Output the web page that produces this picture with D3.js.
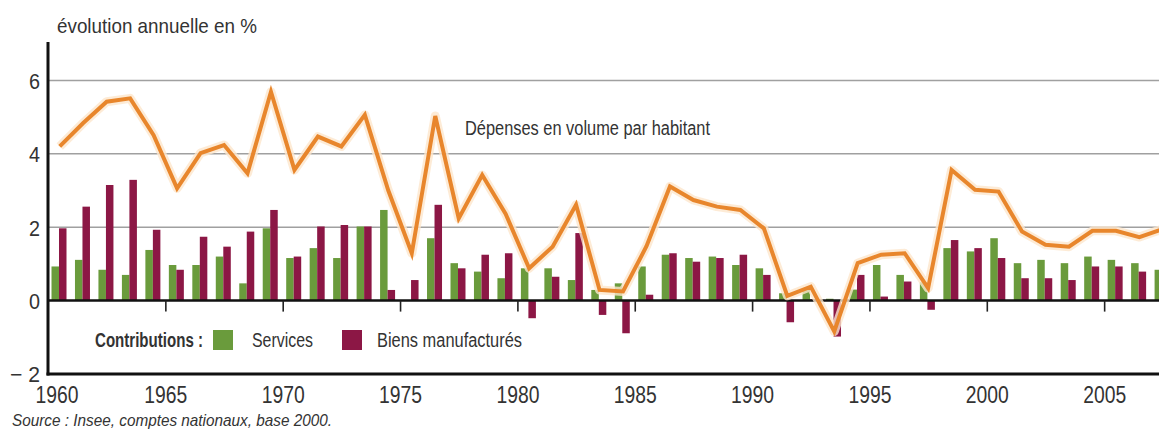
<!DOCTYPE html>
<html>
<head>
<meta charset="utf-8">
<script src="https://cdn.jsdelivr.net/npm/d3@7"></script>
<style>
  html, body { margin: 0; padding: 0; background: #fff; }
  svg { display: block; }
  text { font-family: "Liberation Sans", Arial, sans-serif; fill: #333; }
</style>
</head>
<body>
<svg id="chart" width="1159" height="430"></svg>
<script>
const years = d3.range(1960, 2008);
const services = [0.93,1.11,0.84,0.70,1.38,0.97,0.97,1.20,0.47,1.97,
                  1.16,1.43,1.16,2.02,2.47,0.00,1.70,1.02,0.79,0.61,
                  0.88,0.88,0.56,0.29,0.47,0.93,1.25,1.16,1.20,0.97,
                  0.88,0.20,0.29,0.05,0.30,0.97,0.70,0.50,1.43,1.34,
                  1.70,1.02,1.11,1.02,1.20,1.11,1.02,0.84];
const biens = [1.97,2.56,3.15,3.29,1.93,0.84,1.74,1.47,1.88,2.47,
               1.20,2.02,2.06,2.02,0.29,0.56,2.61,0.88,1.25,1.29,
               -0.48,0.65,1.84,-0.39,-0.89,0.16,1.29,1.06,1.16,1.25,
               0.70,-0.59,0.03,-0.98,0.70,0.11,0.52,-0.25,1.65,1.43,
               1.16,0.61,0.61,0.56,0.93,0.93,0.79,0.00];
const depenses = [4.20,4.84,5.42,5.51,4.51,3.06,4.02,4.24,3.47,5.69,
                  3.56,4.47,4.20,5.06,3.00,1.29,5.03,2.24,3.42,2.36,
                  0.88,1.47,2.61,0.29,0.25,1.48,3.11,2.74,2.56,2.47,
                  1.97,0.13,0.38,-0.84,1.02,1.25,1.29,0.34,3.56,3.02,
                  2.97,1.88,1.52,1.47,1.90,1.90,1.73,1.95];
const yTicks = [-2, 0, 2, 4, 6];
const gridTicks = [2, 4, 6];
const xTickYears = [1965, 1970, 1975, 1980, 1985, 1990, 1995, 2000, 2005];
const xLabelYears = [1960, 1965, 1970, 1975, 1980, 1985, 1990, 1995, 2000, 2005];
const seriesNames = ["Services", "Biens manufacturés"];
const seriesColors = ["#6a9b3c", "#8c1745"];
const lineColor = "#e8862c";

const svg = d3.select("#chart");
const W = 1159;
const left = 48, yearW = 23.47;
const xYear = d3.scaleLinear().domain([1960, 2008]).range([left, left + 48 * yearW]);
const x0 = d3.scaleBand().domain(years).range([left, left + 48 * yearW]).padding(0);
const x1 = d3.scaleBand().domain([0, 1]).range([3.5, 18.5]).padding(0);
const y = d3.scaleLinear().domain([-2, 7]).range([374, 43.7]);

function narrow(sel, len) {
  sel.attr("textLength", len).attr("lengthAdjust", "spacingAndGlyphs");
}

// gridlines
svg.append("g").selectAll("line").data(gridTicks).join("line")
  .attr("x1", left).attr("x2", W)
  .attr("y1", d => y(d)).attr("y2", d => y(d))
  .attr("stroke", "#a0a0a0").attr("stroke-width", 1.5);

// bars
const barData = [];
years.forEach((yr, i) => {
  barData.push({yr, s: 0, v: services[i]});
  barData.push({yr, s: 1, v: biens[i]});
});
svg.append("g").selectAll("rect").data(barData).join("rect")
  .attr("x", d => x0(d.yr) + x1(d.s))
  .attr("width", x1.bandwidth())
  .attr("y", d => y(Math.max(0, d.v)))
  .attr("height", d => Math.abs(y(d.v) - y(0)))
  .attr("fill", d => seriesColors[d.s]);

// zero line
svg.append("line").attr("x1", left).attr("x2", W)
  .attr("y1", y(0)).attr("y2", y(0))
  .attr("stroke", "#111").attr("stroke-width", 2.5);

// x ticks at zero line
const tickAxis = d3.axisBottom(xYear).tickValues(xTickYears).tickSize(11).tickFormat("");
const gt = svg.append("g").attr("transform", `translate(0,${y(0)})`).call(tickAxis);
gt.select(".domain").remove();
gt.selectAll(".tick line").attr("stroke", "#222").attr("stroke-width", 1.6);

// line with halo
const line = d3.line().x((d, i) => x0(years[i]) + x0.bandwidth() / 2).y(d => y(d));
svg.append("path").datum(depenses).attr("d", line)
  .attr("fill", "none").attr("stroke", "#fde6cc").attr("stroke-width", 9)
  .attr("stroke-linejoin", "round").attr("opacity", 0.8);
svg.append("path").datum(depenses).attr("d", line)
  .attr("fill", "none").attr("stroke", lineColor).attr("stroke-width", 4)
  .attr("stroke-linejoin", "miter");

// bottom axis line
svg.append("line").attr("x1", left - 1.5).attr("x2", W)
  .attr("y1", y(-2)).attr("y2", y(-2))
  .attr("stroke", "#111").attr("stroke-width", 3);
// y axis line
svg.append("line").attr("x1", left).attr("x2", left)
  .attr("y1", 42).attr("y2", y(-2) + 1.5)
  .attr("stroke", "#111").attr("stroke-width", 3);

// y labels
const yAxis = d3.axisLeft(y).tickValues(yTicks).tickSize(0).tickPadding(0)
  .tickFormat(d => d < 0 ? "\u2212 " + Math.abs(d) : d);
const gy = svg.append("g").attr("transform", `translate(40,0)`).call(yAxis);
gy.select(".domain").remove();
gy.selectAll("text").attr("font-size", 22).attr("fill", "#333")
  .style("font-family", '"Liberation Sans", Arial, sans-serif')
  .attr("dy", "0.36em")
  .each(function(d) { narrow(d3.select(this), d < 0 ? 30 : 11); });

// x labels
const xAxis = d3.axisBottom(xYear).tickValues(xLabelYears).tickSize(0).tickPadding(0).tickFormat(d3.format("d"));
const gx = svg.append("g").attr("transform", `translate(0,403)`).call(xAxis);
gx.select(".domain").remove();
gx.selectAll("text").attr("font-size", 23).attr("fill", "#333").attr("dy", 0)
  .style("font-family", '"Liberation Sans", Arial, sans-serif')
  .attr("dx", d => d === 1960 ? 8.5 : 0)
  .each(function() { narrow(d3.select(this), 43); });

// title
narrow(svg.append("text").attr("x", 57).attr("y", 33).attr("font-size", 21).text("évolution annuelle en %"), 200);

// line label
narrow(svg.append("text").attr("x", 465).attr("y", 135).attr("font-size", 19.5).text("Dépenses en volume par habitant"), 245);

// legend
narrow(svg.append("text").attr("x", 95).attr("y", 347).attr("font-size", 20).attr("font-weight", "bold").text("Contributions :"), 108);
const legX = [213, 342];
const legTextX = [252, 377];
const legTextW = [61, 145];
seriesNames.forEach((n, i) => {
  svg.append("rect").attr("x", legX[i]).attr("y", 330).attr("width", 20).attr("height", 20).attr("fill", seriesColors[i]);
  narrow(svg.append("text").attr("x", legTextX[i]).attr("y", 347).attr("font-size", 20).text(n), legTextW[i]);
});

// source
narrow(svg.append("text").attr("x", 12).attr("y", 426).attr("font-size", 16.5).attr("font-style", "italic")
  .text("Source : Insee, comptes nationaux, base 2000."), 320);
</script>
</body>
</html>
